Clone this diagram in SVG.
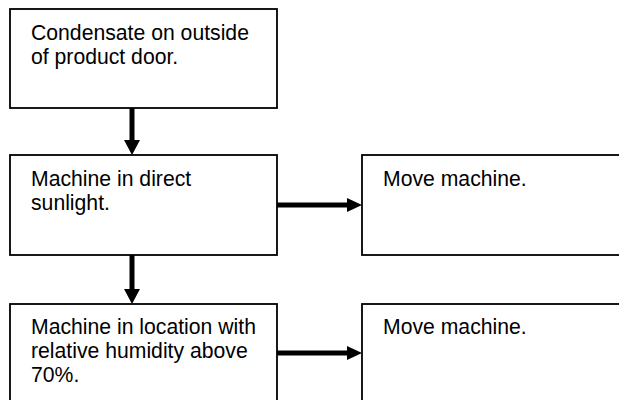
<svg xmlns="http://www.w3.org/2000/svg" width="619" height="400" viewBox="0 0 619 400">
<style>
.box{fill:#fff;stroke:#000;stroke-width:1.8}
.t{font-family:"Liberation Sans",Arial,sans-serif;font-size:21.2px;fill:#000}
.c{stroke:#000;stroke-width:5;fill:none}
.h{fill:#000}
</style>
<rect width="619" height="400" fill="#fff"/>
<g id="n1"><rect class="box" x="10" y="9" width="267" height="99"/>
<text class="t" x="31" y="40">Condensate on outside</text>
<text class="t" x="31" y="64">of product door.</text></g>
<g id="n2"><rect class="box" x="10" y="155" width="267" height="100"/>
<text class="t" x="31" y="186">Machine in direct</text>
<text class="t" x="31" y="210">sunlight.</text></g>
<g id="n3"><rect class="box" x="10" y="304" width="267" height="110"/>
<text class="t" x="31" y="334">Machine in location with</text>
<text class="t" x="31" y="358">relative humidity above</text>
<text class="t" x="31" y="382">70%.</text></g>
<g id="n4"><rect class="box" x="362" y="155" width="270" height="100"/>
<text class="t" x="383" y="186">Move machine.</text></g>
<g id="n5"><rect class="box" x="362" y="304" width="270" height="110"/>
<text class="t" x="383" y="334">Move machine.</text></g>
<g id="connectors">
<line class="c" x1="132" y1="108" x2="132" y2="141"/>
<polygon class="h" points="124,140 140,140 132,155"/>
<line class="c" x1="277" y1="205" x2="348" y2="205"/>
<polygon class="h" points="347,198 347,212 362,205"/>
<line class="c" x1="132" y1="255" x2="132" y2="290"/>
<polygon class="h" points="124,289 140,289 132,304"/>
<line class="c" x1="277" y1="353" x2="348" y2="353"/>
<polygon class="h" points="347,346 347,360 362,353"/>
</g>
</svg>
